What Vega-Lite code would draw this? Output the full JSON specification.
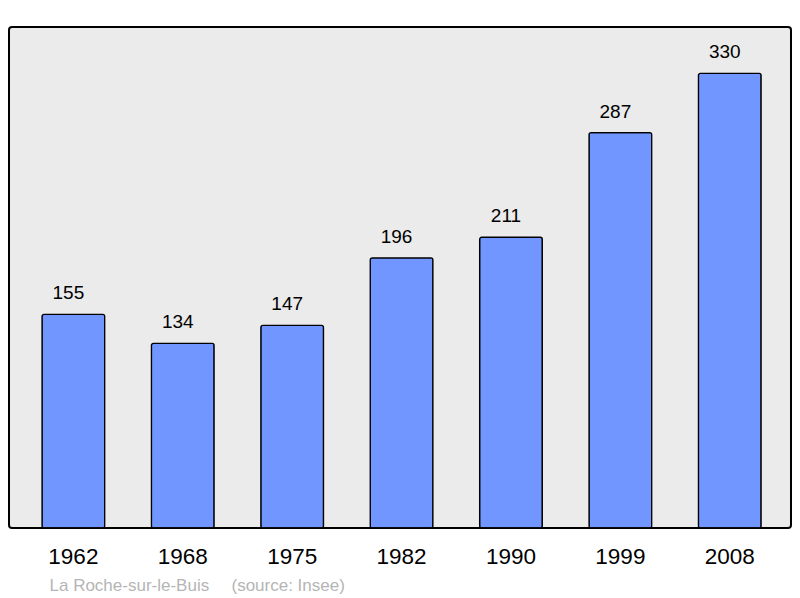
{
  "$schema": "https://vega.github.io/schema/vega-lite/v6.json",
  "autosize": "none",
  "width": 782,
  "height": 501,
  "padding": {"left": 9, "top": 27, "right": 9, "bottom": 70},
  "background": "white",
  "config": {
    "font": "Liberation Sans",
    "view": {"fill": "#ebebeb", "stroke": "#000000", "strokeWidth": 2, "cornerRadius": 3}
  },
  "data": {"values": [
    {"year": "1962", "pop": 155},
    {"year": "1968", "pop": 134},
    {"year": "1975", "pop": 147},
    {"year": "1982", "pop": 196},
    {"year": "1990", "pop": 211},
    {"year": "1999", "pop": 287},
    {"year": "2008", "pop": 330}
  ]},
  "encoding": {
    "x": {
      "field": "year", "type": "nominal", "sort": null,
      "scale": {"paddingInner": 0.427, "paddingOuter": 0.2875, "align": 0.525},
      "axis": {
        "title": "La Roche-sur-le-Buis\u00a0\u00a0\u00a0\u00a0\u2009(source: Insee)",
        "titleFontSize": 17, "titleFontWeight": "normal", "titleColor": "#b5b5b5",
        "titleAnchor": "start", "titleAlign": "left", "titleBaseline": "alphabetic",
        "titleX": 40, "titleY": 62,
        "labelAngle": 0, "labelFontSize": 22.5, "labelColor": "#000000",
        "labelBaseline": "alphabetic", "labelPadding": 35, "labelDx": -1,
        "ticks": false, "tickSize": 0, "domain": false, "grid": false
      }
    },
    "y": {
      "field": "pop", "type": "quantitative",
      "scale": {"domain": [0, 363.6], "nice": false, "zero": true},
      "axis": null
    }
  },
  "layer": [
    {
      "mark": {"type": "bar", "fill": "#7196ff", "stroke": "#000000", "strokeWidth": 1.3, "cornerRadius": 2}
    },
    {
      "mark": {"type": "text", "fontSize": 19, "color": "#000000", "baseline": "alphabetic", "dy": -15, "dx": -5},
      "encoding": {"text": {"field": "pop", "type": "quantitative"}}
    }
  ]
}
